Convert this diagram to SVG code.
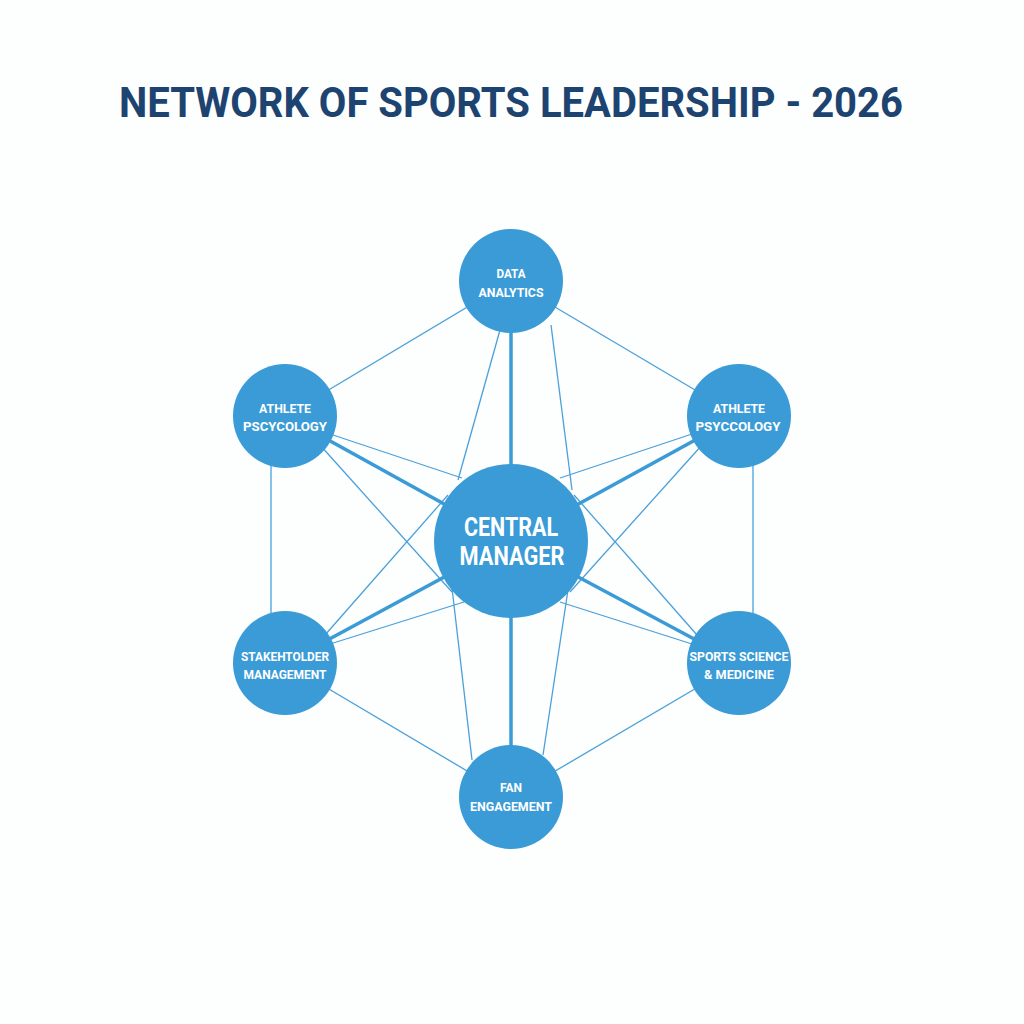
<svg xmlns="http://www.w3.org/2000/svg" width="1024" height="1024" viewBox="0 0 1024 1024">
<style>
.title{font-family:Roboto,"Liberation Sans",sans-serif;font-weight:bold;font-size:42px;fill:#1d4470;text-anchor:middle}
.node{fill:#3a9bd7}
.lbl{font-family:Roboto,"Liberation Sans",sans-serif;font-weight:bold;font-size:13.5px;fill:#ffffff;text-anchor:middle}
.big{font-size:25px}
.thin{stroke:#4aa0da;stroke-width:1.3;fill:none}
.thick{stroke:#3a9bd7;stroke-width:3.5;fill:none}
</style>
<rect width="1024" height="1024" fill="#fdfefe"/>
<text class="title" x="511" y="117" textLength="784" lengthAdjust="spacingAndGlyphs">NETWORK OF SPORTS LEADERSHIP - 2026</text>
<g id="connectors">
<line class="thin" x1="511" y1="281" x2="285" y2="416"/>
<line class="thin" x1="511" y1="281" x2="739" y2="416"/>
<line class="thin" x1="271" y1="416" x2="271" y2="663"/>
<line class="thin" x1="753" y1="416" x2="753" y2="663"/>
<line class="thin" x1="285" y1="663" x2="511" y2="797"/>
<line class="thin" x1="739" y1="663" x2="511" y2="797"/>
<line class="thin" x1="500" y1="330" x2="458" y2="480"/>
<line class="thin" x1="551" y1="325" x2="572" y2="490"/>
<line class="thin" x1="452" y1="588" x2="472" y2="760"/>
<line class="thin" x1="568" y1="590" x2="543" y2="755"/>
<line class="thin" x1="330" y1="434" x2="462" y2="478"/>
<line class="thin" x1="692" y1="434" x2="560" y2="478"/>
<line class="thin" x1="330" y1="644" x2="464" y2="602"/>
<line class="thin" x1="692" y1="644" x2="560" y2="602"/>
<line class="thin" x1="320" y1="445" x2="452" y2="592"/>
<line class="thin" x1="702" y1="445" x2="570" y2="592"/>
<line class="thin" x1="325" y1="635" x2="448" y2="495"/>
<line class="thin" x1="697" y1="635" x2="574" y2="495"/>
<line class="thick" x1="511" y1="281" x2="511" y2="541"/>
<line class="thick" x1="511" y1="541" x2="511" y2="797"/>
<line class="thick" x1="285" y1="416" x2="511" y2="541"/>
<line class="thick" x1="739" y1="416" x2="511" y2="541"/>
<line class="thick" x1="285" y1="663" x2="511" y2="541"/>
<line class="thick" x1="739" y1="663" x2="511" y2="541"/>
</g>
<g id="node-data-analytics">
<circle class="node" cx="511" cy="281" r="52"/>
<text class="lbl" x="511" y="278" textLength="29" lengthAdjust="spacingAndGlyphs">DATA</text>
<text class="lbl" x="511" y="297" textLength="65" lengthAdjust="spacingAndGlyphs">ANALYTICS</text>
</g>
<g id="node-athlete-left">
<circle class="node" cx="285" cy="416" r="52"/>
<text class="lbl" x="285" y="413" textLength="52" lengthAdjust="spacingAndGlyphs">ATHLETE</text>
<text class="lbl" x="285" y="431" textLength="84" lengthAdjust="spacingAndGlyphs">PSCYCOLOGY</text>
</g>
<g id="node-athlete-right">
<circle class="node" cx="739" cy="416" r="52"/>
<text class="lbl" x="739" y="413" textLength="52" lengthAdjust="spacingAndGlyphs">ATHLETE</text>
<text class="lbl" x="738" y="431" textLength="85" lengthAdjust="spacingAndGlyphs">PSYCCOLOGY</text>
</g>
<g id="node-stakeholder">
<circle class="node" cx="285" cy="663" r="52"/>
<text class="lbl" x="285" y="661" textLength="88" lengthAdjust="spacingAndGlyphs">STAKEHTOLDER</text>
<text class="lbl" x="285" y="679" textLength="83" lengthAdjust="spacingAndGlyphs">MANAGEMENT</text>
</g>
<g id="node-sports-science">
<circle class="node" cx="739" cy="663" r="52"/>
<text class="lbl" x="739" y="661" textLength="99" lengthAdjust="spacingAndGlyphs">SPORTS SCIENCE</text>
<text class="lbl" x="739" y="679" textLength="70" lengthAdjust="spacingAndGlyphs">&amp; MEDICINE</text>
</g>
<g id="node-fan">
<circle class="node" cx="511" cy="797" r="52"/>
<text class="lbl" x="511" y="792" textLength="22" lengthAdjust="spacingAndGlyphs">FAN</text>
<text class="lbl" x="511" y="811" textLength="82" lengthAdjust="spacingAndGlyphs">ENGAGEMENT</text>
</g>
<g id="node-central">
<circle class="node" cx="511" cy="541" r="77"/>
<text class="lbl big" x="511" y="536" textLength="94" lengthAdjust="spacingAndGlyphs">CENTRAL</text>
<text class="lbl big" x="512" y="565" textLength="105" lengthAdjust="spacingAndGlyphs">MANAGER</text>
</g>
</svg>
